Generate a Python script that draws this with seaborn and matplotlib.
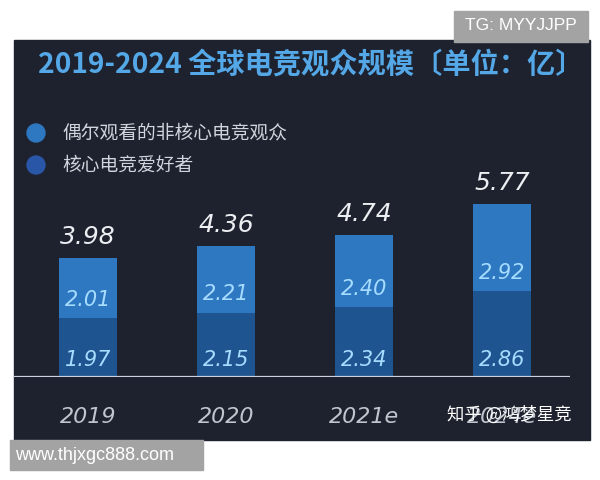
import matplotlib
matplotlib.use("Agg")
import matplotlib.pyplot as plt
from matplotlib.patches import Rectangle, Ellipse
import seaborn as sns
import pandas as pd

# chart data (unit: 100 million viewers)
years = ["2019", "2020", "2021e", "2024e"]
core_fans = [1.97, 2.15, 2.34, 2.86]
casual_viewers = [2.01, 2.21, 2.40, 2.92]
totals = [3.98, 4.36, 4.74, 5.77]

title = "2019-2024 全球电竞观众规模〔单位：亿〕"
legend_labels = ["偶尔观看的非核心电竞观众", "核心电竞爱好者"]

panel = "#1d222e"
upper = "#2e78c2"
lower = "#1e5590"
inner_txt = "#a6dcff"

sns.set_theme(style="white")
plt.rcParams['font.family'] = ['Noto Sans CJK SC', 'DejaVu Sans']

df = pd.DataFrame({"year": years, "core": core_fans,
                   "casual": casual_viewers, "total": totals})

W, H = 600, 480
fig = plt.figure(figsize=(6, 4.8), dpi=100)
fig.patch.set_facecolor("white")

def fx(px):
    return px / W

def fy(py):
    return 1 - py / H

# dark panel behind the chart
fig.patches.append(Rectangle((fx(14), fy(440)), fx(590) - fx(14), fy(40) - fy(440),
                             transform=fig.transFigure, color=panel, zorder=-5))

ax = fig.add_axes([fx(14), fy(377), fx(570) - fx(14), fy(182) - fy(377)])
ax.set_zorder(2)
ax.set_facecolor("none")
sns.barplot(data=df, x="year", y="total", color=upper, width=0.42,
            saturation=1, linewidth=0, ax=ax)
sns.barplot(data=df, x="year", y="core", color=lower, width=0.42,
            saturation=1, linewidth=0, ax=ax)
ax.set_xlim(-0.536, 3.49)
ax.set_ylim(0, 6.5)
ax.axhline(0, color="#c9d2de", lw=1.6)
for s in ax.spines.values():
    s.set_visible(False)
ax.set_xticks([])
ax.set_yticks([])
ax.set_xlabel("")
ax.set_ylabel("")

num_font = dict(family="DejaVu Sans", style="italic")
for i, yr in enumerate(years):
    ax.text(i, 0.57, f"{core_fans[i]:.2f}", ha="center", va="center",
            color=inner_txt, fontsize=15, **num_font)
    ax.text(i, core_fans[i] + 0.6, f"{casual_viewers[i]:.2f}", ha="center",
            va="center", color=inner_txt, fontsize=15, **num_font)
    ax.text(i, totals[i] + 0.7, f"{totals[i]:.2f}", ha="center", va="center",
            color="#eceef2", fontsize=18, **num_font)
    ax.text(i, -40 / 30, yr, ha="center", va="center", color="#c0c5ce",
            fontsize=16, clip_on=False, **num_font)

# title
fig.text(fx(38), fy(65), title, color="#55a8e8", fontsize=20.3,
         fontweight="bold", ha="left", va="center")

# legend
for k, (lab, c) in enumerate(zip(legend_labels, [upper, "#2a56a8"])):
    yy = 133 + 32 * k
    fig.patches.append(Ellipse((fx(36), fy(yy)), 18 / W, 18 / H,
                               transform=fig.transFigure, color=c))
    fig.text(fx(62), fy(yy), lab, color="#d0d4dc", fontsize=13.5,
             ha="left", va="center")

# watermarks
fig.patches.append(Rectangle((fx(454), fy(42)), fx(588) - fx(454), fy(11) - fy(42),
                             transform=fig.transFigure, color="#a3a3a3", zorder=3))
fig.text(fx(521), fy(26), "TG: MYYJJPP", color="white", fontsize=12.5,
         family="Liberation Sans", ha="center", va="center", zorder=4)
fig.patches.append(Rectangle((fx(10), fy(470)), fx(203) - fx(10), fy(440) - fy(470),
                             transform=fig.transFigure, color="#a3a3a3", zorder=3))
fig.text(fx(15), fy(455), "www.thjxgc888.com", color="white", fontsize=13,
         family="Liberation Sans", ha="left", va="center", zorder=4)
fig.text(fx(447), fy(415), "知乎 @鸿梦星竞", color="white", fontsize=12.5,
         ha="left", va="center", zorder=4)

fig.savefig("out.png", dpi=100)
